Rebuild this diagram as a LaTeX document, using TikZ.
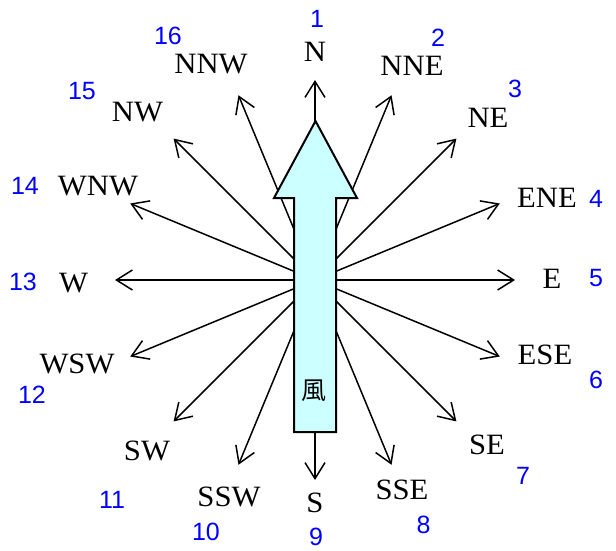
\documentclass[tikz,border=0pt]{standalone}
\usepackage{fontspec}
\setmainfont{Liberation Serif}
\newfontfamily\numfont{Liberation Sans}
\newfontfamily\cjkfont{Noto Sans CJK JP}
\usetikzlibrary{arrows.meta,calc}
\definecolor{numblue}{RGB}{0,0,255}
\definecolor{arrowfill}{RGB}{204,255,255}
\begin{document}
\begin{tikzpicture}[x=1pt,y=-1pt,
  ray/.style={line width=1.5pt, -{Straight Barb[length=16pt,width=20pt]}},
  lab/.style={anchor=base, inner sep=0pt, xscale=1.04, font=\fontsize{29.5}{29.5}\selectfont},
  num/.style={anchor=base, inner sep=0pt, text=numblue, font=\numfont\fontsize{25}{25}\selectfont},
  bigarrow/.style={draw=black, line width=2pt, fill=arrowfill, line join=miter},
  windtext/.style={inner sep=0pt, font=\cjkfont\fontsize{25}{25}\selectfont}]
\useasboundingbox (0,0) rectangle (616,550);
\coordinate (c) at (315,280);
\foreach \i in {1,...,16} {
  \pgfmathsetmacro\ang{(\i-1)*22.5-90}
  \coordinate (t\i) at ($(c)+(\ang:200)$);
  \draw[ray] (c) -- (t\i);
}
\draw[bigarrow] (294,432) -- (294,198) -- (274,198) -- (315.5,121) -- (357,198) -- (336,198) -- (336,432) -- cycle;
\node[windtext] (wind) at (314,391) {風};
\foreach \i/\t/\x/\y in {1/N/315/61, 2/NNE/412/75, 3/NE/488/127, 4/ENE/547/207,
  5/E/552/288, 6/ESE/545/364, 7/SE/487/454, 8/SSE/402/499, 9/S/315/512,
  10/SSW/229/506, 11/SW/147/460, 12/WSW/77/373, 13/W/73.5/292, 14/WNW/98/195,
  15/NW/137.5/121, 16/NNW/211/73} {
  \node[lab] (L\i) at (\x,\y) {\t};
}
\foreach \i/\x/\y in {1/317/27, 2/438/46, 3/515/97, 4/596/207, 5/596/286,
  6/596/388, 7/523/484, 8/423.5/533, 9/316/545.5, 10/206/540, 11/112/508,
  12/32/403, 13/23/290, 14/25/194, 15/82/99, 16/168/44} {
  \node[num] (n\i) at (\x,\y) {\i};
}
\end{tikzpicture}
\end{document}
